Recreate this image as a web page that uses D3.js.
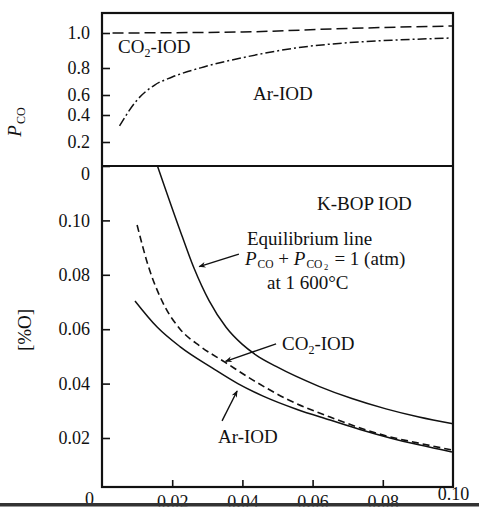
<!DOCTYPE html>
<html>
<head>
<meta charset="utf-8">
<script src="https://cdn.jsdelivr.net/npm/d3@7"></script>
<style>
  body { margin: 0; background: #fff; }
  svg text { font-family: "Liberation Serif", "Times New Roman", serif; fill: #111; }
</style>
</head>
<body>
<div id="chart"></div>
<script>
// upper panel: P_CO against [%C]
const pcoTicks = [0, 0.2, 0.4, 0.6, 0.8, 1.0];
const co2Pco = [[0.003, 1.0], [0.04, 1.006], [0.07, 1.026], [0.10, 1.04]];
const arPco = [[0.005, 0.32], [0.010, 0.55], [0.015, 0.674], [0.020, 0.733], [0.029, 0.806],
  [0.041, 0.863], [0.055, 0.914], [0.069, 0.943], [0.084, 0.96], [0.099, 0.971]];

// lower panel: [%O] against [%C]
const cTicks = [0, 0.02, 0.04, 0.06, 0.08, 0.10];
const oTicks = [0.02, 0.04, 0.06, 0.08, 0.10];
const equilibrium = [[0.0158, 0.120], [0.0219, 0.0975], [0.0262, 0.0825], [0.0305, 0.0705],
  [0.0353, 0.0608], [0.0399, 0.0545], [0.0439, 0.0505], [0.0496, 0.0463], [0.0618, 0.0390],
  [0.0712, 0.0345], [0.0809, 0.0307], [0.0903, 0.0277], [0.1000, 0.0252]];
const co2Iod = [[0.0100, 0.0983], [0.0131, 0.0836], [0.0174, 0.0696], [0.0222, 0.0601],
  [0.0279, 0.0538], [0.0350, 0.0479], [0.0430, 0.0413], [0.0527, 0.0343], [0.0650, 0.0277],
  [0.0812, 0.0207], [0.0906, 0.0178], [0.0997, 0.0151]];
const arIod = [[0.0094, 0.0704], [0.0157, 0.0608], [0.0222, 0.0536], [0.0316, 0.0456],
  [0.0387, 0.0400], [0.0459, 0.0354], [0.0556, 0.0305], [0.0650, 0.0266], [0.0735, 0.0231],
  [0.0821, 0.0200], [0.0906, 0.0171], [0.0997, 0.0143]];

const width = 479, height = 514;

const x = d3.scaleLinear().domain([0, 0.10]).range([102, 453]);
// the printed scale is not quite even, so the tick positions are pinned piecewise
const yTop = d3.scaleLinear().domain([0, 0.2, 0.4, 0.6, 0.8, 1.0, 1.114]).range([166, 142, 115, 95, 68, 33, 13]);
const yBot = d3.scaleLinear().domain([0, 0.02, 0.12]).range([487, 438, 166]);

const svg = d3.select("#chart").append("svg")
    .attr("width", width)
    .attr("height", height);

svg.append("rect").attr("width", width).attr("height", height).attr("fill", "#fff");

const defs = svg.append("defs");
defs.append("marker")
    .attr("id", "head")
    .attr("viewBox", "0 0 10 10")
    .attr("refX", 9).attr("refY", 5)
    .attr("markerWidth", 9).attr("markerHeight", 7)
    .attr("markerUnits", "userSpaceOnUse")
    .attr("orient", "auto")
  .append("path")
    .attr("d", "M0,1 L10,5 L0,9 L3,5 Z")
    .attr("fill", "#111");

// frame and divider
svg.append("rect")
    .attr("x", x(0)).attr("y", yTop(1.114))
    .attr("width", x(0.10) - x(0)).attr("height", yBot(0) - yTop(1.114))
    .attr("fill", "none").attr("stroke", "#111").attr("stroke-width", 2.2);
svg.append("line")
    .attr("x1", x(0)).attr("x2", x(0.10))
    .attr("y1", yTop(0)).attr("y2", yTop(0))
    .attr("stroke", "#111").attr("stroke-width", 2.2);

// axes
const topAxis = svg.append("g")
    .attr("transform", "translate(" + x(0) + ",0)")
    .call(d3.axisLeft(yTop).tickValues(pcoTicks).tickSize(-8).tickPadding(12)
      .tickFormat(d => d === 0 ? "0" : d3.format(".1f")(d)));
topAxis.select(".domain").remove();
topAxis.selectAll("text").attr("font-size", 18).filter(d => d === 0).attr("dy", "0.75em");
topAxis.selectAll("line").attr("stroke", "#111").attr("stroke-width", 1.6);

const botAxis = svg.append("g")
    .attr("transform", "translate(" + x(0) + ",0)")
    .call(d3.axisLeft(yBot).tickValues(oTicks).tickSize(-8).tickPadding(12)
      .tickFormat(d3.format(".2f")));
botAxis.select(".domain").remove();
botAxis.selectAll("text").attr("font-size", 18);
botAxis.selectAll("line").attr("stroke", "#111").attr("stroke-width", 1.6);

const xAxis = svg.append("g")
    .attr("transform", "translate(0," + yBot(0) + ")")
    .call(d3.axisBottom(x).tickValues(cTicks).tickSize(-7)
      .tickFormat(d => d === 0 ? "0" : d3.format(".2f")(d)));
xAxis.select(".domain").remove();
xAxis.selectAll("line").attr("stroke", "#111").attr("stroke-width", 1.6)
    .filter(d => d === 0 || d === 0.10).remove();
xAxis.selectAll("text")
    .attr("font-size", 18)
    .attr("dy", 0)
    .attr("y", d => d === 0 ? 18 : d === 0.10 ? 13 : 21)
    .attr("x", d => d === 0 ? -13 : 0);

// curves
const lineTop = d3.line().x(d => x(d[0])).y(d => yTop(d[1])).curve(d3.curveMonotoneX);
const lineBot = d3.line().x(d => x(d[0])).y(d => yBot(d[1])).curve(d3.curveMonotoneX);

svg.append("path").attr("d", lineTop(co2Pco))
    .attr("fill", "none").attr("stroke", "#111").attr("stroke-width", 1.5)
    .attr("stroke-dasharray", "11,5");
svg.append("path").attr("d", lineTop(arPco))
    .attr("fill", "none").attr("stroke", "#111").attr("stroke-width", 1.5)
    .attr("stroke-dasharray", "9,3,2,3");

svg.append("path").attr("d", lineBot(equilibrium))
    .attr("fill", "none").attr("stroke", "#111").attr("stroke-width", 1.5);
svg.append("path").attr("d", lineBot(co2Iod))
    .attr("fill", "none").attr("stroke", "#111").attr("stroke-width", 1.6)
    .attr("stroke-dasharray", "7,4");
svg.append("path").attr("d", lineBot(arIod))
    .attr("fill", "none").attr("stroke", "#111").attr("stroke-width", 1.5);

// axis titles
const pTitle = svg.append("text")
    .attr("transform", "translate(21,122) rotate(-90)")
    .attr("text-anchor", "middle")
    .attr("font-size", 19);
pTitle.append("tspan").attr("font-style", "italic").text("P");
pTitle.append("tspan").attr("font-size", 12).attr("dx", 1).attr("dy", 4).text("CO");

svg.append("text")
    .attr("transform", "translate(31,330) rotate(-90)")
    .attr("text-anchor", "middle")
    .attr("font-size", 19)
    .text("[%O]");

// labels
function label(px, py, parts) {
  const t = svg.append("text").attr("x", px).attr("y", py).attr("font-size", 19);
  parts.forEach(p => {
    const s = t.append("tspan").text(p.t);
    if (p.size) s.attr("font-size", p.size);
    if (p.dx) s.attr("dx", p.dx);
    if (p.dy) s.attr("dy", p.dy);
    if (p.italic) s.attr("font-style", "italic");
  });
  return t;
}

label(118, 53, [{t: "CO"}, {t: "2", size: 12, dy: 4}, {t: "-IOD", dy: -4}]);
label(253, 100, [{t: "Ar-IOD"}]);
label(317, 210, [{t: "K-BOP IOD"}]);
label(247, 245, [{t: "Equilibrium line"}]);
label(245, 265, [
  {t: "P", italic: true}, {t: "CO", size: 11.5, dx: 1, dy: 3}, {t: " + ", dy: -3},
  {t: "P", italic: true}, {t: "CO", size: 11.5, dx: 1, dy: 3}, {t: "2", size: 8.5, dx: 1.5, dy: 1.5},
  {t: " = 1 (atm)", dx: 1.5, dy: -4.5}
]);
label(267, 289, [{t: "at 1 600°C"}]);
label(282, 350, [{t: "CO"}, {t: "2", size: 12, dy: 4}, {t: "-IOD", dy: -4}]);
label(218, 443, [{t: "Ar-IOD"}]);

// arrows, given in data units of the lower panel
const arrows = [
  {from: [0.0390, 0.0876], to: [0.0277, 0.0830]},
  {from: [0.0496, 0.0546], to: [0.0352, 0.0482]},
  {from: [0.0342, 0.0263], to: [0.0385, 0.0373]}
];
svg.selectAll(".arrow")
    .data(arrows)
    .enter()
    .append("line")
    .attr("class", "arrow")
    .attr("x1", d => x(d.from[0])).attr("y1", d => yBot(d.from[1]))
    .attr("x2", d => x(d.to[0])).attr("y2", d => yBot(d.to[1]))
    .attr("stroke", "#111").attr("stroke-width", 1.4)
    .attr("marker-end", "url(#head)");

// page rule at the foot of the scan, trimming the tick labels
svg.append("rect").attr("x", 0).attr("y", 506.5).attr("width", width).attr("height", 8).attr("fill", "#fff");
svg.append("rect").attr("x", 0).attr("y", 503).attr("width", width).attr("height", 3.5).attr("fill", "#333");
</script>
</body>
</html>
